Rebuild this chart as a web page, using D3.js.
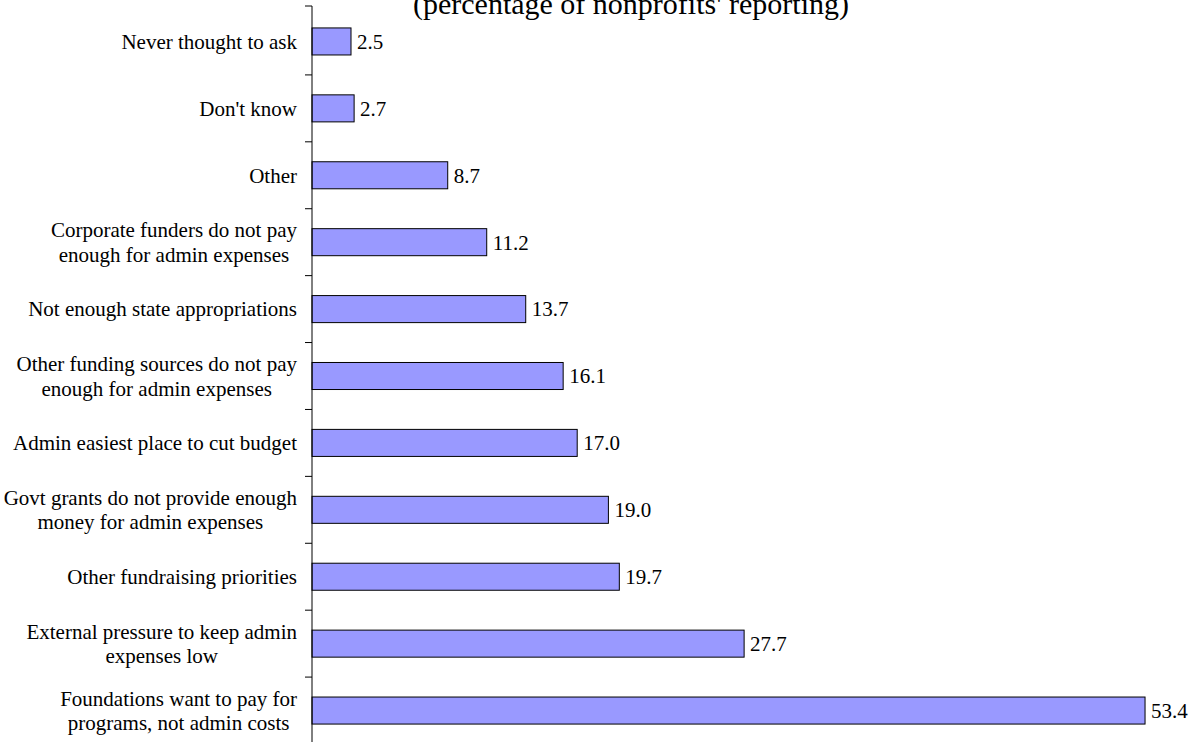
<!DOCTYPE html>
<html>
<head>
<meta charset="utf-8">
<script src="https://cdn.jsdelivr.net/npm/d3@7"></script>
<style>
  html, body { margin: 0; padding: 0; background: #fff; }
  svg { display: block; font-family: "Liberation Serif", "Times New Roman", serif; }
</style>
</head>
<body>
<svg id="chart" width="1197" height="742"></svg>
<script>
// Reasons reported, listed top to bottom
const categories = [
  "Never thought to ask",
  "Don't know",
  "Other",
  "Corporate funders do not pay|enough for admin expenses",
  "Not enough state appropriations",
  "Other funding sources do not pay|enough for admin expenses",
  "Admin easiest place to cut budget",
  "Govt grants do not provide enough|money for admin expenses",
  "Other fundraising priorities",
  "External pressure to keep admin|expenses low",
  "Foundations want to pay for|programs, not admin costs"
];
const values = [2.5, 2.7, 8.7, 11.2, 13.7, 16.1, 17.0, 19.0, 19.7, 27.7, 53.4];
const title = "(percentage of nonprofits' reporting)";

const svg = d3.select("#chart");
const axisX = 312;

const y = d3.scaleBand()
  .domain(categories)
  .range([8, 744])
  .paddingInner(0.596)
  .paddingOuter(0.298);

const x = d3.scaleLinear().domain([0, 60]).range([axisX, axisX + 936]);

// Title (runs off the top edge of the canvas)
svg.append("text")
  .attr("x", 631).attr("y", 14)
  .attr("text-anchor", "middle")
  .attr("font-size", 30)
  .text(title);

// Bars
svg.append("g").selectAll("rect")
  .data(values)
  .join("rect")
  .attr("x", x(0))
  .attr("y", (d, i) => y(categories[i]))
  .attr("width", d => x(d) - x(0))
  .attr("height", y.bandwidth())
  .attr("fill", "#9999ff")
  .attr("stroke", "#000")
  .attr("stroke-width", 1);

// Value labels
svg.append("g").selectAll("text")
  .data(values)
  .join("text")
  .attr("x", d => x(d) + 6)
  .attr("y", (d, i) => y(categories[i]) + y.bandwidth() / 2)
  .attr("dy", "0.35em")
  .attr("font-size", 21)
  .attr("fill", "#000")
  .text(d => d.toFixed(1));

// Category axis: vertical line with ticks on band boundaries
const axis = svg.append("g");
axis.append("line")
  .attr("x1", axisX).attr("x2", axisX)
  .attr("y1", 6).attr("y2", 742)
  .attr("stroke", "#000").attr("stroke-width", 1);
const step = y.step();
axis.selectAll("line.tick")
  .data(d3.range(categories.length + 1))
  .join("line")
  .attr("class", "tick")
  .attr("x1", axisX - 7).attr("x2", axisX)
  .attr("y1", i => i === 0 ? 6 : y.range()[0] + i * step)
  .attr("y2", i => i === 0 ? 6 : y.range()[0] + i * step)
  .attr("stroke", "#000").attr("stroke-width", 1);

// Category labels: block right-aligned, lines centred within the block
const lineH = 24.5;
const labelRight = 297;
categories.forEach((c, i) => {
  const lines = c.split("|");
  const cy = y(c) + y.bandwidth() / 2;
  const g = svg.append("g");
  const texts = lines.map((ln, j) => g.append("text")
    .attr("font-size", 21)
    .attr("y", cy + (j - (lines.length - 1) / 2) * lineH)
    .attr("dy", "0.35em")
    .attr("text-anchor", "middle")
    .text(ln));
  const w = d3.max(texts, t => t.node().getComputedTextLength());
  texts.forEach(t => t.attr("x", labelRight - w / 2));
});
</script>
</body>
</html>
